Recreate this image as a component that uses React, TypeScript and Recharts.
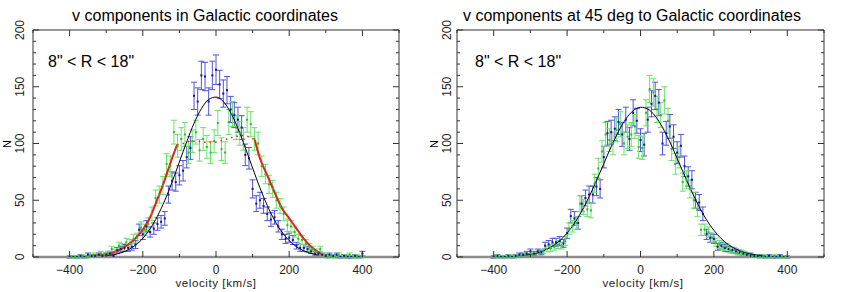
import React from 'react';
import { ComposedChart, Scatter, Line, XAxis, YAxis, ErrorBar, ReferenceLine } from 'recharts';

// bin centres (km/s)
const vBlue = [
  -400, -390, -380, -370, -360, -350, -340, -330, -320, -310,
  -300, -290, -280, -270, -260, -250, -240, -230, -220, -210,
  -200, -190, -180, -170, -160, -150, -140, -130, -120, -110,
  -100, -90, -80, -70, -60, -50, -40, -30, -20, -10,
  0, 10, 20, 30, 40, 50, 60, 70, 80, 90,
  100, 110, 120, 130, 140, 150, 160, 170, 180, 190,
  200, 210, 220, 230, 240, 250, 260, 270, 280, 290,
  300, 310, 320, 330, 340, 350, 360, 370, 380, 390,
  400,
];
const vGreen = [
  -395, -385, -375, -365, -355, -345, -335, -325, -315, -305,
  -295, -285, -275, -265, -255, -245, -235, -225, -215, -205,
  -195, -185, -175, -165, -155, -145, -135, -125, -115, -105,
  -95, -85, -75, -65, -55, -45, -35, -25, -15, -5,
  5, 15, 25, 35, 45, 55, 65, 75, 85, 95,
  105, 115, 125, 135, 145, 155, 165, 175, 185, 195,
  205, 215, 225, 235, 245, 255, 265, 275, 285, 295,
  305, 315, 325, 335, 345, 355, 365, 375, 385, 395,
];

// left panel: Galactic coordinates
const galBlueN = [
  0, 0, 0, 1, 0, 2, 1, 1, 2, 1,
  2, 3, 1, 6, 7, 8, 8, 9, 11, 24,
  20, 27, 22, 25, 29, 31, 34, 55, 67, 66,
  72, 76, 88, 96, 142, 137, 160, 159, 137, 160,
  165, 152, 144, 147, 130, 125, 121, 114, 90, 87,
  60, 47, 50, 45, 38, 33, 35, 27, 20, 16,
  17, 15, 10, 8, 8, 7, 5, 3, 3, 2,
  1, 2, 1, 2, 0, 1, 0, 0, 1, 0,
  3,
];
const galBlueErr = [
  1, 1, 1, 1, 1, 1.5, 1, 1, 1.5, 1,
  1.5, 2, 1, 2.5, 2.5, 3, 3, 3, 3.5, 5,
  4.5, 5, 4.5, 5, 5.5, 5.5, 6, 7.5, 8, 8,
  8.5, 9, 9.5, 10, 12, 12, 12.5, 12.5, 12, 12.5,
  13, 12.5, 12, 12, 11.5, 11, 11, 10.5, 9.5, 9.5,
  8, 7, 7, 6.5, 6, 6, 6, 5, 4.5, 4,
  4, 4, 3, 3, 3, 2.5, 2, 2, 2, 1.5,
  1, 1.5, 1, 1.5, 1, 1, 1, 1, 1, 1,
  2,
];
const galGreenN = [
  0, 0, 0, 1, 0, 1, 2, 1, 3, 2,
  3, 7, 5, 10, 9, 13, 12, 16, 17, 26,
  24, 29, 38, 52, 55, 63, 82, 80, 110, 98,
  104, 108, 92, 102, 110, 94, 104, 97, 92, 102,
  118, 95, 92, 119, 126, 114, 109, 104, 121, 117,
  104, 100, 80, 73, 64, 60, 50, 45, 38, 28,
  27, 22, 16, 15, 12, 9, 7, 5, 7, 2,
  0, 1, 0, 2, 0, 1, 2, 0, 1, 0,
];
const galGreenErr = [
  1, 1, 1, 1, 1, 1, 1.5, 1, 2, 1.5,
  2, 2.5, 2, 3, 3, 3.5, 3.5, 4, 4, 5,
  5, 5.5, 6, 7, 7.5, 8, 9, 9, 10.5, 10,
  10, 10.5, 9.5, 10, 10.5, 9.5, 10, 10, 9.5, 10,
  11, 10, 9.5, 11, 11, 10.5, 10.5, 10, 11, 11,
  10, 10, 9, 8.5, 8, 7.5, 7, 6.5, 6, 5.5,
  5, 4.5, 4, 4, 3.5, 3, 2.5, 2, 2.5, 1.5,
  1, 1, 1, 1.5, 1, 1, 1.5, 1, 1, 1,
];

// right panel: 45 deg to Galactic coordinates
const rotBlueN = [
  0, 1, 0, 0, 1, 0, 1, 2, 2, 3,
  5, 3, 5, 4, 10, 11, 13, 13, 14, 12,
  21, 36, 34, 30, 47, 52, 55, 55, 62, 60,
  88, 109, 110, 113, 119, 108, 121, 104, 127, 120,
  103, 99, 121, 135, 142, 136, 100, 109, 115, 106,
  92, 98, 80, 71, 68, 50, 48, 38, 20, 17,
  16, 9, 10, 8, 7, 6, 5, 4, 3, 2,
  2, 1, 1, 1, 0, 1, 0, 0, 1, 0,
  0,
];
const rotBlueErr = [
  1, 1, 1, 1, 1, 1, 1, 1.5, 1.5, 2,
  2, 2, 2, 2, 3, 3.5, 3.5, 3.5, 4, 3.5,
  4.5, 6, 6, 5.5, 7, 7, 7.5, 7.5, 8, 8,
  9.5, 10.5, 10.5, 10.5, 11, 10.5, 11, 10, 11.5, 11,
  10, 10, 11, 11.5, 12, 11.5, 10, 10.5, 10.5, 10.5,
  9.5, 10, 9, 8.5, 8, 7, 7, 6, 4.5, 4,
  4, 3, 3, 3, 2.5, 2.5, 2, 2, 2, 1.5,
  1.5, 1, 1, 1, 1, 1, 1, 1, 1, 1,
  1,
];
const rotGreenN = [
  1, 0, 0, 0, 1, 0, 1, 1, 2, 1,
  2, 2, 3, 5, 7, 8, 9, 11, 10, 14,
  25, 27, 30, 47, 44, 42, 41, 65, 78, 93,
  108, 103, 100, 112, 117, 100, 106, 108, 115, 97,
  96, 127, 148, 145, 130, 125, 138, 120, 95, 82,
  88, 66, 68, 60, 50, 42, 24, 24, 22, 17,
  13, 11, 9, 9, 6, 6, 4, 4, 3, 2,
  1, 1, 0, 1, 0, 0, 1, 0, 0, 0,
];
const rotGreenErr = [
  1, 1, 1, 1, 1, 1, 1, 1, 1.5, 1,
  1.5, 1.5, 2, 2, 2.5, 3, 3, 3.5, 3, 4,
  5, 5, 5.5, 7, 6.5, 6.5, 6.5, 8, 9, 9.5,
  10.5, 10, 10, 10.5, 11, 10, 10.5, 10.5, 10.5, 10,
  10, 11.5, 12, 12, 11.5, 11, 12, 11, 10, 9,
  9.5, 8, 8, 8, 7, 6.5, 5, 5, 4.5, 4,
  3.5, 3.5, 3, 3, 2.5, 2.5, 2, 2, 2, 1.5,
  1, 1, 1, 1, 1, 1, 1, 1, 1, 1,
];

// fitted curves
const galFitV = [
  -340, -320, -300, -280, -260, -240, -220, -200, -180, -160, -140, -120, -100, -80, -60, -40,
  -20, 0, 20, 40, 60, 80, 100, 120, 140, 160, 180, 200, 220, 240, 260, 280,
];
const galFitN = [
  0.3, 0.5, 1.1, 2.0, 3.6, 6.3, 10.4, 16.4, 24.9, 36.0, 49.8, 66.0, 83.8, 101.5, 117.8, 130.7,
  138.8, 140.9, 137.0, 127.3, 113.2, 96.3, 78.4, 61.0, 45.4, 32.4, 22.1, 14.4, 9.0, 5.4, 3.1, 1.7,
];
const wingLeftV = [-340, -320, -300, -280, -260, -240, -220, -200, -180, -160, -140, -120, -106];
const wingLeftN = [1, 1.5, 2.5, 4, 7, 11, 16.5, 24, 35, 51, 68, 87, 99];
const wingRightV = [106, 120, 140, 160, 180, 200, 220, 240, 260, 280, 288];
const wingRightN = [103, 87, 72, 57, 43, 34, 25, 16, 9, 4, 2.5];
const wingMidV = [-106, -90, -70, -50, -30, -10, 10, 30, 50, 70, 90, 106];
const wingMidN = [99, 100, 102, 102, 101, 101, 102, 104, 106, 107, 106, 103];

const rotFitV = [
  -340, -320, -300, -280, -260, -240, -220, -200, -180, -160, -140, -120, -100, -80, -60, -40, -20, 0,
  20, 40, 60, 80, 100, 120, 140, 160, 180, 200, 220, 240, 260, 280, 300, 320, 340,
];
const rotFitN = [
  0.7, 1.3, 2.2, 3.7, 6.1, 9.5, 14.4, 21.1, 29.7, 40.5, 53.1, 67.3, 82.3, 97.1, 110.6, 121.6, 128.9, 131.9,
  130.3, 124.2, 114.2, 101.4, 86.8, 71.8, 57.3, 44.1, 32.7, 23.5, 16.2, 10.8, 7.0, 4.3, 2.6, 1.5, 0.8,
];

const X_TICKS = [-500, -400, -300, -200, -100, 0, 100, 200, 300, 400, 500];
const Y_TICKS = [0, 10, 20, 30, 40, 50, 60, 70, 80, 90, 100, 110, 120, 130, 140, 150, 160, 170, 180, 190, 200];

const FONT = '"Liberation Sans", Arial, sans-serif';
const W = 427;
const H = 292;
const TOP = 30;
const BOTTOM = 257;

const toPts = (v: number[], n: number[], e: number[]) => v.map((x, i) => ({ v: x, n: n[i], e: e[i] }));
const toLine = (v: number[], n: number[]) => v.map((x, i) => ({ v: x, n: n[i] }));

const BLUE_BAR = '#5252dc';
const BLUE_DOT = '#12129a';
const GREEN_BAR = '#66e466';
const GREEN_DOT = '#2cba2c';
const RED = '#e0231b';

const dot = (color: string) => (props: any) => {
  const { cx, cy } = props;
  if (cx == null || cy == null) return <g />;
  return <rect x={cx - 1} y={cy - 1} width={2} height={2} fill={color} />;
};

interface PanelProps {
  left: number;
  right: number;
  blue: { v: number; n: number; e: number }[];
  green: { v: number; n: number; e: number }[];
  fit: { v: number; n: number }[];
  wings?: boolean;
}

const Panel = ({ left, right, blue, green, fit, wings }: PanelProps) => {
  const rx = W - right;

  // bottom axis: inward ticks here and mirrored on the top edge
  const xTick = (p: any) => {
    const { x, payload } = p;
    const val = payload.value as number;
    const major = val % 200 === 0;
    const len = major ? 6 : 3;
    const showLabel = major && Math.abs(val) < 500;
    return (
      <g>
        <line x1={x} x2={x} y1={BOTTOM} y2={BOTTOM - len} stroke="#333" strokeWidth={1} />
        <line x1={x} x2={x} y1={TOP} y2={TOP + len} stroke="#333" strokeWidth={1} />
        {showLabel && (
          <text x={x} y={BOTTOM + 17} textAnchor="middle" fontSize={12} fontFamily={FONT} fill="#222">
            {val < 0 ? `\u2212${Math.abs(val)}` : `${val}`}
          </text>
        )}
      </g>
    );
  };

  // left axis: inward ticks here and mirrored on the right edge
  const yTick = (p: any) => {
    const { y, payload } = p;
    const val = payload.value as number;
    const major = val % 50 === 0;
    const len = major ? 6 : 3;
    const lx = left;
    return (
      <g>
        <line x1={lx} x2={lx + len} y1={y} y2={y} stroke="#333" strokeWidth={1} />
        <line x1={rx} x2={rx - len} y1={y} y2={y} stroke="#333" strokeWidth={1} />
        {major && (
          <text
            x={24}
            y={y}
            textAnchor="middle"
            fontSize={12}
            fontFamily={FONT}
            fill="#222"
            transform={`rotate(-90, 24, ${y})`}
          >
            {val}
          </text>
        )}
      </g>
    );
  };

  return (
    <ComposedChart
      width={W}
      height={H}
      margin={{ top: TOP, right, bottom: H - BOTTOM - 1, left: left - 1 }}
    >
      <XAxis
        dataKey="v"
        type="number"
        domain={[-500, 500]}
        ticks={X_TICKS}
        interval={0}
        allowDataOverflow
        height={1}
        tickSize={0}
        tickMargin={0}
        tickLine={false}
        tick={xTick}
        axisLine={{ stroke: '#8c8c8c', strokeWidth: 2.5 }}
      />
      <YAxis
        dataKey="n"
        type="number"
        domain={[0, 200]}
        ticks={Y_TICKS}
        interval={0}
        allowDataOverflow
        width={1}
        tickSize={0}
        tickMargin={0}
        tickLine={false}
        tick={yTick}
        axisLine={{ stroke: '#333', strokeWidth: 1 }}
      />
      <ReferenceLine y={200} stroke="#333" strokeWidth={1} />
      <ReferenceLine x={500} stroke="#333" strokeWidth={1} />
      <Scatter data={blue} dataKey="n" shape={dot(BLUE_DOT)} isAnimationActive={false}>
        <ErrorBar dataKey="e" direction="y" width={3} stroke={BLUE_BAR} strokeWidth={1} isAnimationActive={false} />
      </Scatter>
      <Scatter data={green} dataKey="n" shape={dot(GREEN_DOT)} isAnimationActive={false}>
        <ErrorBar dataKey="e" direction="y" width={3} stroke={GREEN_BAR} strokeWidth={1} isAnimationActive={false} />
      </Scatter>
      <Line data={fit} dataKey="n" type="monotone" dot={false} stroke="#000" strokeWidth={1} isAnimationActive={false} />
      {wings && (
        <Line data={toLine(wingLeftV, wingLeftN)} dataKey="n" type="monotone" dot={false} stroke={RED} strokeWidth={2} isAnimationActive={false} />
      )}
      {wings && (
        <Line data={toLine(wingRightV, wingRightN)} dataKey="n" type="monotone" dot={false} stroke={RED} strokeWidth={2} isAnimationActive={false} />
      )}
      {wings && (
        <Line data={toLine(wingMidV, wingMidN)} dataKey="n" type="monotone" dot={false} stroke={RED} strokeWidth={1.5} strokeDasharray="1.5 4" isAnimationActive={false} />
      )}
    </ComposedChart>
  );
};

const Labels = ({ title, dx }: { title: string; dx: number }) => (
  <g fontFamily={FONT} fill="#000">
    <text x={dx + 205} y={21} textAnchor="middle" fontSize={16}>{title}</text>
    <text x={dx + 48} y={67} fontSize={16}>8" &lt; R &lt; 18"</text>
    <text x={dx + 11} y={144} fontSize={11} textAnchor="middle" transform={`rotate(-90, ${dx + 11}, 144)`}>N</text>
    <text x={dx + 216} y={287} fontSize={11.5} letterSpacing={0.6} textAnchor="middle" fill="#222">velocity [km/s]</text>
  </g>
);

export default function App() {
  return (
    <div style={{ position: 'absolute', left: 0, top: 0, width: 854, height: 292, background: '#fff' }}>
      <div style={{ position: 'absolute', left: 0, top: 0, width: W, height: H }}>
        <Panel
          left={33}
          right={28}
          blue={toPts(vBlue, galBlueN, galBlueErr)}
          green={toPts(vGreen, galGreenN, galGreenErr)}
          fit={toLine(galFitV, galFitN)}
          wings
        />
      </div>
      <div style={{ position: 'absolute', left: W, top: 0, width: W, height: H }}>
        <Panel
          left={30}
          right={30}
          blue={toPts(vBlue, rotBlueN, rotBlueErr)}
          green={toPts(vGreen, rotGreenN, rotGreenErr)}
          fit={toLine(rotFitV, rotFitN)}
        />
      </div>
      <svg width={854} height={292} style={{ position: 'absolute', left: 0, top: 0, pointerEvents: 'none' }}>
        <Labels title="v components in Galactic coordinates" dx={0} />
        <Labels title="v components at 45 deg to Galactic coordinates" dx={427} />
      </svg>
    </div>
  );
}
